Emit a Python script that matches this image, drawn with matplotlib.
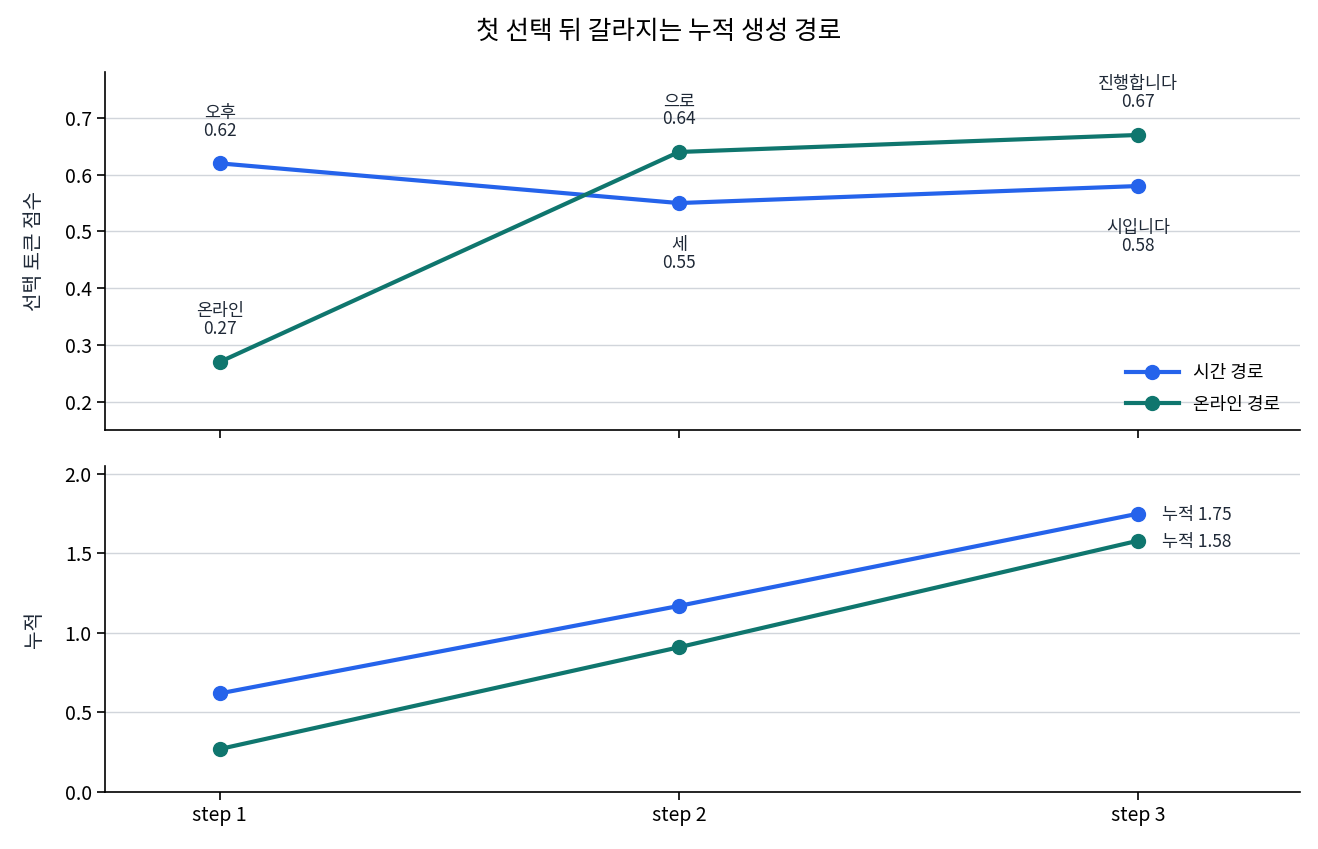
import matplotlib
matplotlib.use("Agg")
import matplotlib.pyplot as plt

plt.rcParams['font.family'] = ['Noto Sans CJK KR', 'DejaVu Sans']

steps = ["step 1", "step 2", "step 3"]
time_tokens = ["오후", "세", "시입니다"]
time_scores = [0.62, 0.55, 0.58]
time_cum = [0.62, 1.17, 1.75]
online_tokens = ["온라인", "으로", "진행합니다"]
online_scores = [0.27, 0.64, 0.67]
online_cum = [0.27, 0.91, 1.58]
# label placement: +1 above, -1 below
time_pos = [1, -1, -1]
online_pos = [1, 1, 1]

blue = "#2563eb"
teal = "#0f766e"
txt = "#1f2937"

fig = plt.figure(figsize=(13.18, 8.49), dpi=100)
ax1 = fig.add_axes([105/1318, 1-430/849, 1195/1318, 358/849])
ax2 = fig.add_axes([105/1318, 1-792/849, 1195/1318, 326/849], sharex=ax1)

x = list(range(len(steps)))
ax1.plot(x, time_scores, color=blue, lw=3, marker='o', ms=10, label="시간 경로", zorder=3)
ax1.plot(x, online_scores, color=teal, lw=3, marker='o', ms=10, label="온라인 경로", zorder=3)

for xs, toks, vals, pos in [(x, time_tokens, time_scores, time_pos),
                            (x, online_tokens, online_scores, online_pos)]:
    for xi, t, v, p in zip(xs, toks, vals, pos):
        if p > 0:
            ax1.annotate(f"{t}\n{v:.2f}", (xi, v), xytext=(0, 17), textcoords='offset points',
                         ha='center', va='bottom', fontsize=12.5, color=txt, linespacing=1.0)
        else:
            ax1.annotate(f"{t}\n{v:.2f}", (xi, v), xytext=(0, -24), textcoords='offset points',
                         ha='center', va='top', fontsize=12.5, color=txt, linespacing=1.0)

ax1.set_ylim(0.15, 0.781)
ax1.set_yticks([0.2, 0.3, 0.4, 0.5, 0.6, 0.7])
ax1.set_ylabel("선택 토큰 점수", fontsize=14.5, color=txt, labelpad=14)
leg = ax1.legend(loc='lower right', frameon=False, fontsize=13, handlelength=2.9,
                 borderaxespad=0.5, labelspacing=0.75, handletextpad=0.8,
                 bbox_to_anchor=(0.997, 0.0))

ax2.plot(x, time_cum, color=blue, lw=3, marker='o', ms=10, zorder=3)
ax2.plot(x, online_cum, color=teal, lw=3, marker='o', ms=10, zorder=3)
ax2.annotate(f"누적 {time_cum[-1]:.2f}", (x[-1], time_cum[-1]), xytext=(17, -1),
             textcoords='offset points', ha='left', va='center', fontsize=12.5, color=txt)
ax2.annotate(f"누적 {online_cum[-1]:.2f}", (x[-1], online_cum[-1]), xytext=(17, -1),
             textcoords='offset points', ha='left', va='center', fontsize=12.5, color=txt)
ax2.set_ylim(0, 2.05)
ax2.set_yticks([0.0, 0.5, 1.0, 1.5, 2.0])
ax2.set_ylabel("누적", fontsize=14.5, color=txt, labelpad=14)
ax2.set_xlim(-0.25, 2.353)
ax2.set_xticks(x)
ax2.set_xticklabels(steps)

for ax in (ax1, ax2):
    ax.grid(axis='y', color='#d1d5db', lw=1)
    ax.set_axisbelow(True)
    for s in ('top', 'right'):
        ax.spines[s].set_visible(False)
    ax.spines['left'].set_linewidth(1.2)
    ax.spines['bottom'].set_linewidth(1.2)
    ax.tick_params(labelsize=14, length=6, width=1.2, colors='black')
plt.setp(ax1.get_xticklabels(), visible=False)

fig.suptitle("첫 선택 뒤 갈라지는 누적 생성 경로", fontsize=18.5, y=1-32/849, va='center', color='black')

fig.savefig("out.png", dpi=100)
